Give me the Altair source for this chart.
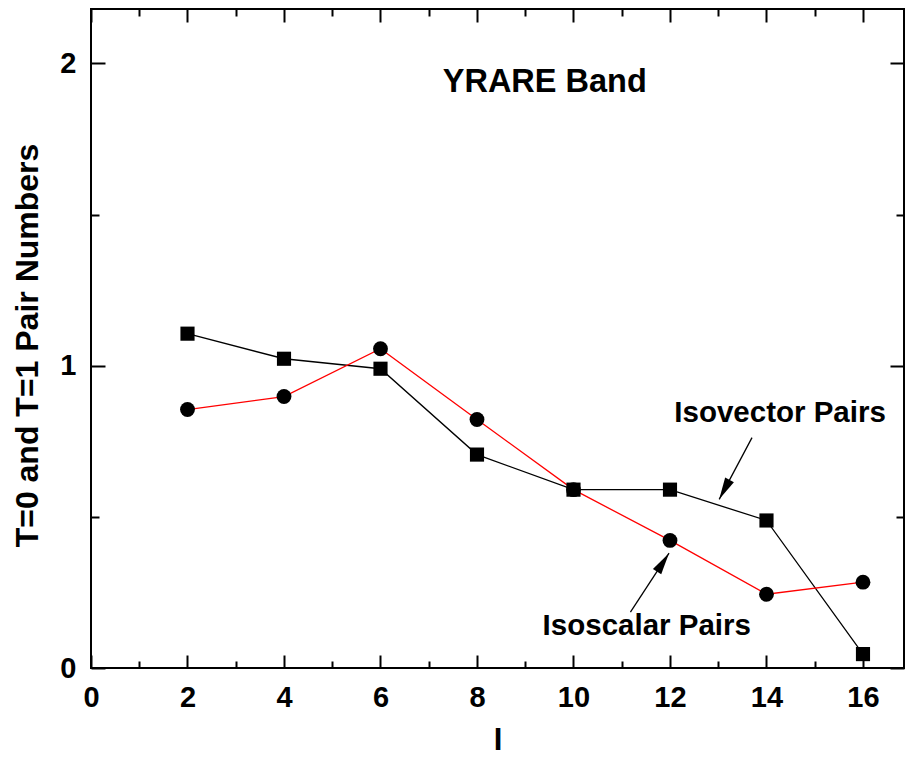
import altair as alt
import pandas as pd

# ---- data ----
spins = [2, 4, 6, 8, 10, 12, 14, 16]
isovector_pairs = [1.106, 1.023, 0.990, 0.706, 0.590, 0.590, 0.488, 0.046]
isoscalar_pairs = [0.855, 0.898, 1.056, 0.822, 0.590, 0.422, 0.244, 0.284]

x_major = [0, 2, 4, 6, 8, 10, 12, 14, 16]
x_minor = [1, 3, 5, 7, 9, 11, 13, 15]
y_major = [0, 1, 2]
y_minor = [0.5, 1.5]

# annotations
label_text = ["Isovector Pairs", "Isoscalar Pairs"]
label_x = [12.09, 9.36]
label_y = [0.815, 0.109]
title_text = ["YRARE Band"]
title_x = [7.29]
title_y = [1.904]
arrow_tail_x = [13.70, 11.18]
arrow_tail_y = [0.762, 0.185]
arrow_tip_x = [13.02, 11.98]
arrow_tip_y = [0.558, 0.380]
arrow_angle = [208, 33]

FONT = "Liberation Sans"
W, H = 813, 659
XDOM = [0, 16.85]
YDOM = [0, 2.18]

df_v = pd.DataFrame({"I": spins, "v": isovector_pairs})
df_s = pd.DataFrame({"I": spins, "v": isoscalar_pairs})
df_lab = pd.DataFrame({"t": label_text, "x": label_x, "y": label_y})
df_title = pd.DataFrame({"t": title_text, "x": title_x, "y": title_y})
df_arr = pd.DataFrame({"x": arrow_tail_x, "y": arrow_tail_y, "x2": arrow_tip_x,
                       "y2": arrow_tip_y, "a": arrow_angle})

xs = alt.Scale(domain=XDOM, nice=False, zero=False)
ys = alt.Scale(domain=YDOM, nice=False, zero=False)


def tick_axis(orient, values, size, labels=False, **kw):
    return alt.Axis(orient=orient, values=values, tickSize=size, offset=-size,
                    domain=False, grid=False, labels=labels, ticks=True,
                    tickWidth=2, tickColor="black", **kw)


lab_kw = dict(labelFont=FONT, labelFontWeight="bold", labelFontSize=29,
              labelColor="black", labelPadding=15, labelFlush=False,
              labelOverlap=False)
title_kw = dict(titleFont=FONT, titleFontWeight="bold", titleColor="black",
                titleBaseline="alphabetic")

x_bottom = tick_axis("bottom", x_major, 13, labels=True, **lab_kw, **title_kw,
                     titleFontSize=31, titleY=94)
y_left = tick_axis("left", y_major, 14, labels=True, **lab_kw, **title_kw,
                   titleFontSize=32, titleX=-68, titleY=336, titleAngle=270)

line_v = alt.Chart(df_v).mark_line(color="black", strokeWidth=1.3).encode(
    x=alt.X("I:Q", scale=xs, axis=x_bottom, title="I"),
    y=alt.Y("v:Q", scale=ys, axis=y_left, title="T=0 and T=1 Pair Numbers"),
)
line_s = alt.Chart(df_s).mark_line(color="#ff0000", strokeWidth=1.3).encode(
    x=alt.X("I:Q", scale=xs, axis=tick_axis("bottom", x_minor, 7), title=None),
    y=alt.Y("v:Q", scale=ys, axis=tick_axis("left", y_minor, 8), title=None),
)
pts_v = alt.Chart(df_v).mark_point(shape="square", filled=True, size=200,
                                   color="black", opacity=1).encode(
    x=alt.X("I:Q", scale=xs, axis=tick_axis("top", x_major, 13), title=None),
    y=alt.Y("v:Q", scale=ys, axis=tick_axis("right", y_major, 14), title=None),
)
pts_s = alt.Chart(df_s).mark_circle(size=220, color="black", opacity=1).encode(
    x=alt.X("I:Q", scale=xs, axis=tick_axis("top", x_minor, 7), title=None),
    y=alt.Y("v:Q", scale=ys, axis=tick_axis("right", y_minor, 8), title=None),
)

arr_lines = alt.Chart(df_arr).mark_rule(color="black", strokeWidth=1.3).encode(
    x=alt.X("x:Q", scale=xs, axis=None), y=alt.Y("y:Q", scale=ys, axis=None),
    x2="x2:Q", y2="y2:Q",
)
arr_heads = alt.Chart(df_arr).mark_point(
    shape="M0,0L0.45,2L-0.45,2Z", filled=True, size=484, color="black", opacity=1
).encode(
    x=alt.X("x2:Q", scale=xs, axis=None), y=alt.Y("y2:Q", scale=ys, axis=None),
    angle=alt.Angle("a:Q", scale=None),
)
labels = alt.Chart(df_lab).mark_text(font=FONT, fontWeight="bold", fontSize=29.5,
                                     align="left", baseline="alphabetic",
                                     color="black").encode(
    x=alt.X("x:Q", scale=xs, axis=None), y=alt.Y("y:Q", scale=ys, axis=None),
    text="t:N",
)
title = alt.Chart(df_title).mark_text(font=FONT, fontWeight="bold", fontSize=32.5,
                                      align="left", baseline="alphabetic",
                                      color="black").encode(
    x=alt.X("x:Q", scale=xs, axis=None), y=alt.Y("y:Q", scale=ys, axis=None),
    text="t:N",
)

chart = alt.layer(
    line_v, line_s, arr_lines, arr_heads, pts_v, pts_s, labels, title
).resolve_axis(x="independent", y="independent").properties(
    width=W, height=H,
    autosize=alt.AutoSizeParams(type="none"),
    padding={"left": 83, "top": 1, "right": 2, "bottom": 88},
    background="white",
).configure_view(stroke="black", strokeWidth=2)

chart.save("out.html", embed_options={"renderer": "svg", "actions": False})
